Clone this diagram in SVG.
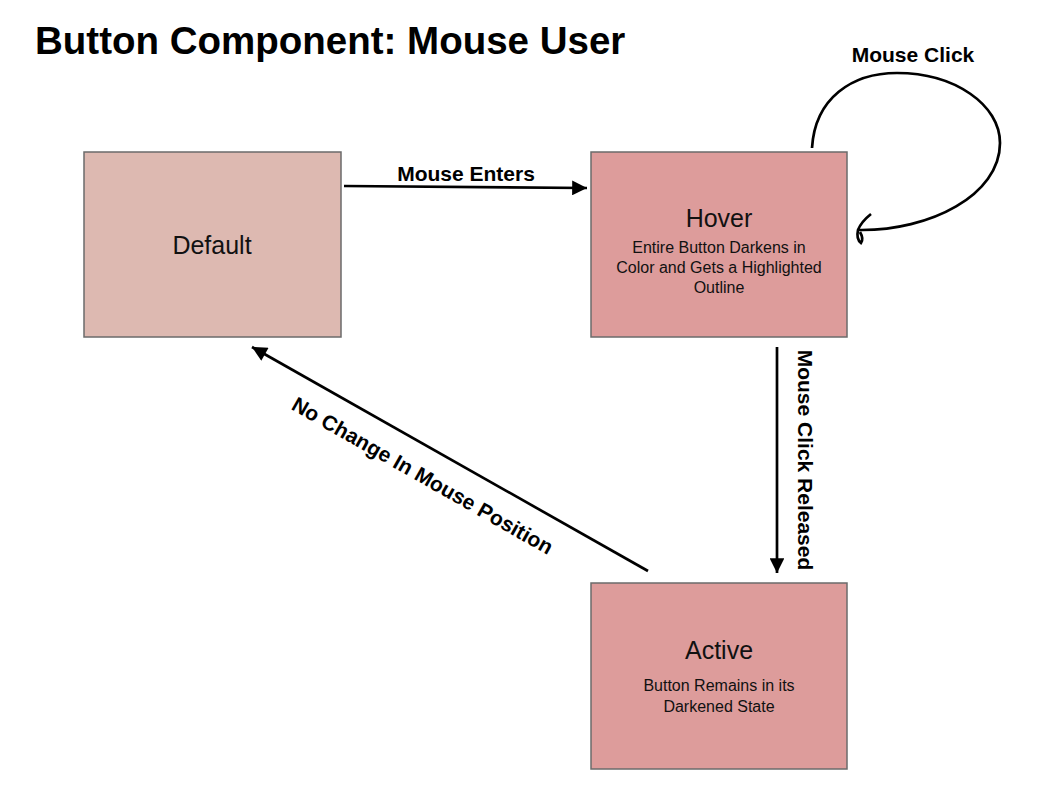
<svg xmlns="http://www.w3.org/2000/svg" width="1050" height="810" viewBox="0 0 1050 810">
<defs>
<style>
.box{stroke:#6b6b6b;stroke-width:1.5}
.light{fill:#ddb9b1}
.dark{fill:#dd9c9b}
.t{font-family:"Liberation Sans",Arial,sans-serif;fill:#111;text-anchor:middle}
.main{font-size:25px}
.sub{font-size:16px}
.lbl{font-family:"Liberation Sans",Arial,sans-serif;font-weight:bold;font-size:21px;fill:#000;text-anchor:middle}
.edge{stroke:#000;stroke-width:2.7;fill:none}
</style>
<marker id="arr" viewBox="0 0 10 10" refX="10" refY="5" markerWidth="8" markerHeight="5.5" markerUnits="strokeWidth" orient="auto">
<path d="M0,0 L10,5 L0,10 Z" fill="#000"/>
</marker>
</defs>
<rect width="1050" height="810" fill="#fff"/>
<text x="35" y="54" font-family="'Liberation Sans',Arial,sans-serif" font-weight="bold" font-size="38.5" fill="#000">Button Component: Mouse User</text>
<g id="default">
<rect class="box light" x="84" y="152" width="257" height="185"/>
<text class="t main" x="212" y="254">Default</text>
</g>
<g id="hover">
<rect class="box dark" x="591" y="152" width="256" height="185"/>
<text class="t main" x="719" y="227">Hover</text>
<text class="t sub" x="719" y="253">Entire Button Darkens in</text>
<text class="t sub" x="719" y="273">Color and Gets a Highlighted</text>
<text class="t sub" x="719" y="293">Outline</text>
</g>
<g id="active">
<rect class="box dark" x="591" y="583" width="256" height="186"/>
<text class="t main" x="719" y="659">Active</text>
<text class="t sub" x="719" y="691">Button Remains in its</text>
<text class="t sub" x="719" y="712">Darkened State</text>
</g>
<g id="connectors">
<line class="edge" x1="344" y1="186" x2="587" y2="188" marker-end="url(#arr)"/>
<text class="lbl" x="466" y="181">Mouse Enters</text>
<line class="edge" x1="777" y1="347" x2="777" y2="573" marker-end="url(#arr)"/>
<text class="lbl" transform="translate(798,460) rotate(90)" x="0" y="0">Mouse Click Released</text>
<line class="edge" x1="648" y1="571" x2="252" y2="347" marker-end="url(#arr)"/>
<text class="lbl" transform="translate(419,482) rotate(29.6)" x="0" y="0">No Change In Mouse Position</text>
<path class="edge" d="M812,148 C815,98 852,73 897,73 C955,73 1000,105 1000,143 C1000,195 930,231 859,230"/>
<path class="edge" d="M871,214 Q861,222 858,230 Q856,239 861,243 Q864,239 860,232"/>
<text class="lbl" x="913" y="62">Mouse Click</text>
</g>
</svg>
